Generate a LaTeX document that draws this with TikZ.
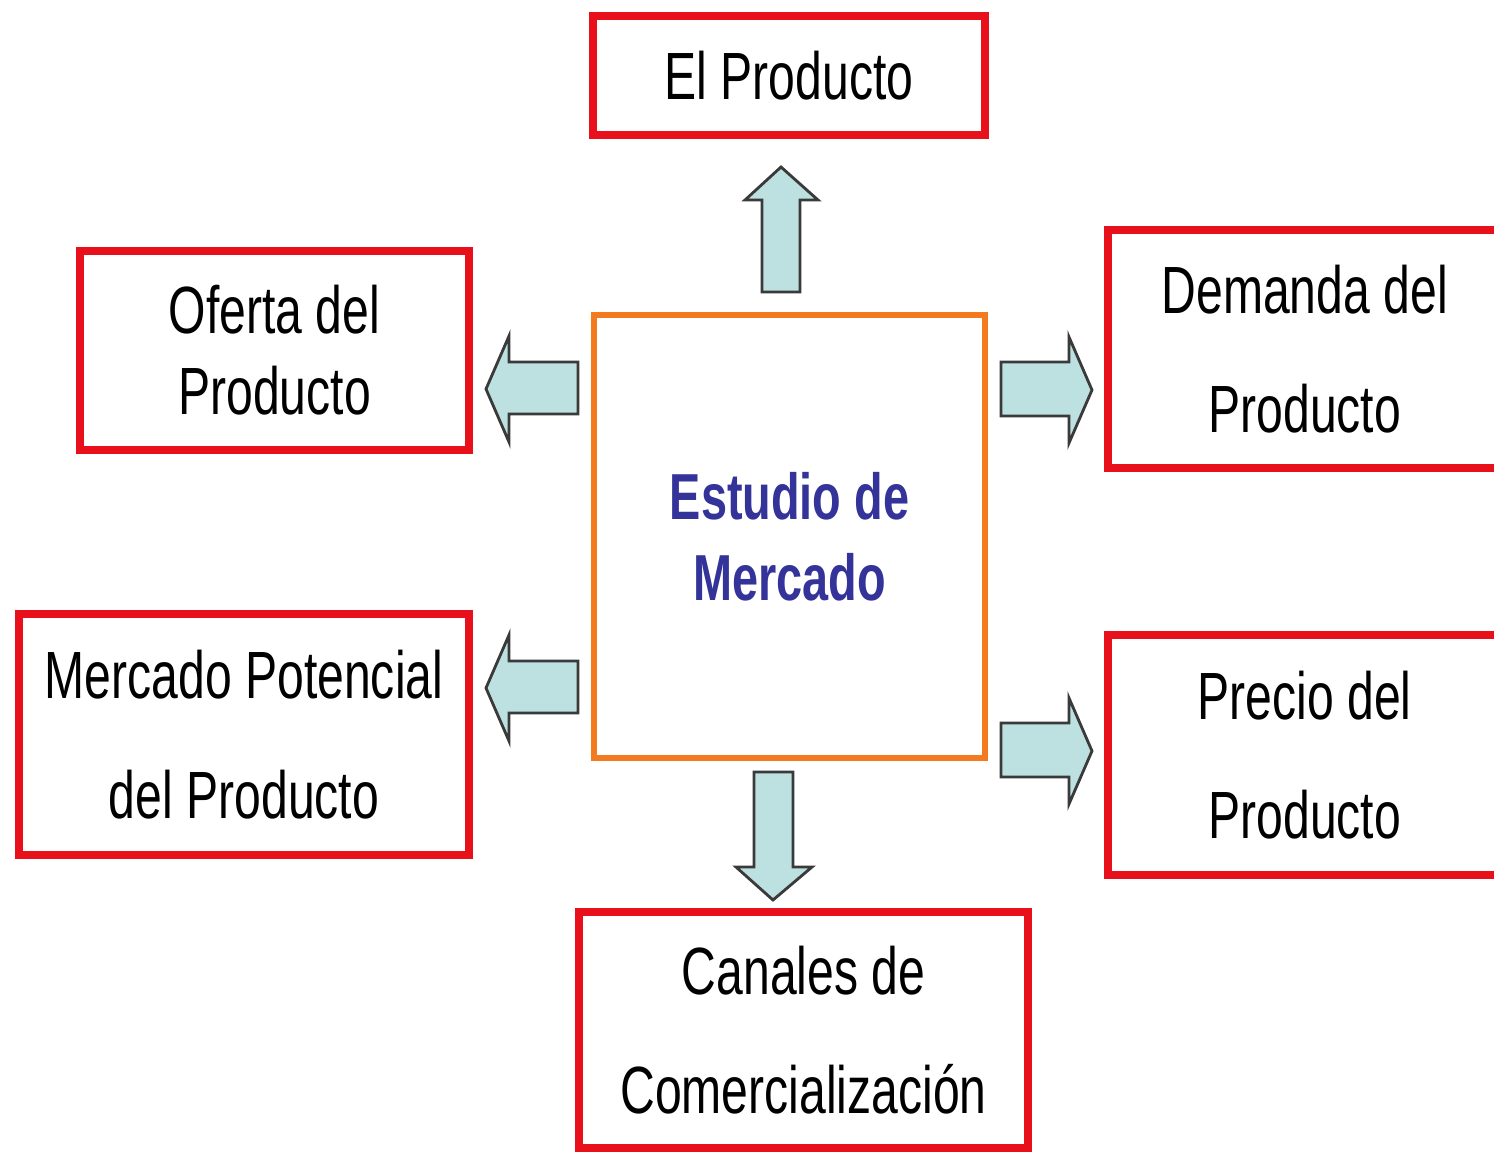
\documentclass[tikz,border=0pt]{standalone}
\usepackage{fontspec}
\setmainfont{Liberation Sans}[FakeStretch=0.72]
\usepackage{tikz}

\definecolor{boxred}{RGB}{232,16,26}
\definecolor{boxorange}{RGB}{244,122,32}
\definecolor{arrowfill}{RGB}{189,224,224}
\definecolor{arrowline}{RGB}{58,58,58}
\definecolor{titleblue}{RGB}{51,51,153}

\begin{document}
\begin{tikzpicture}[x=0.01cm,y=-0.01cm,
  redbox/.style={draw=boxred,line width=2.2pt,align=center,inner sep=0pt,
    font=\fontsize{19}{23}\selectfont},
  mainbox/.style={draw=boxorange,line width=1.9pt,align=center,inner sep=0pt,
    font=\fontsize{18.5}{23}\selectfont\bfseries,text=titleblue},
  blockarrow/.style={draw=arrowline,fill=arrowfill,line width=0.8pt,line join=miter}]
\useasboundingbox (0,0) rectangle (1494,1154);

% centre
\node[mainbox,minimum width=3.91cm,minimum height=4.43cm] (estudio) at (789.5,536.5) {Estudio de\\Mercado};

% the six topics
\node[redbox,minimum width=3.92cm,minimum height=1.19cm] (producto) at (789,75.5) {El Producto};
\node[redbox,minimum width=3.89cm,minimum height=1.99cm] (oferta) at (274.5,350.5) {Oferta del\\Producto};
\node[redbox,minimum width=3.935cm,minimum height=2.38cm] (demanda) at (1304.75,349) {Demanda del\\[11pt]Producto};
\node[redbox,minimum width=4.50cm,minimum height=2.41cm] (potencial) at (244,734.5) {Mercado Potencial\\[11pt]del Producto};
\node[redbox,minimum width=3.935cm,minimum height=2.40cm] (precio) at (1304.75,755) {Precio del\\[11pt]Producto};
\node[redbox,minimum width=4.49cm,minimum height=2.36cm] (canales) at (803.5,1030) {Canales de\\[11pt]Comercializaci\'on};

% block arrows
\draw[blockarrow] (762,292) -- (762,200) -- (745,200) -- (781,167) -- (818,200) -- (800,200) -- (800,292) -- cycle;
\draw[blockarrow] (578,362) -- (509,362) -- (509,336) -- (486,389) -- (509,442) -- (509,414) -- (578,414) -- cycle;
\draw[blockarrow] (578,661) -- (509,661) -- (509,635) -- (486,688) -- (509,741) -- (509,713) -- (578,713) -- cycle;
\draw[blockarrow] (1001,362) -- (1069,362) -- (1069,337) -- (1092,390) -- (1069,443) -- (1069,416) -- (1001,416) -- cycle;
\draw[blockarrow] (1001,723) -- (1069,723) -- (1069,698) -- (1092,751) -- (1069,804) -- (1069,777) -- (1001,777) -- cycle;
\draw[blockarrow] (754,772) -- (754,867) -- (736,867) -- (773,900) -- (812,867) -- (793,867) -- (793,772) -- cycle;
\end{tikzpicture}
\end{document}
